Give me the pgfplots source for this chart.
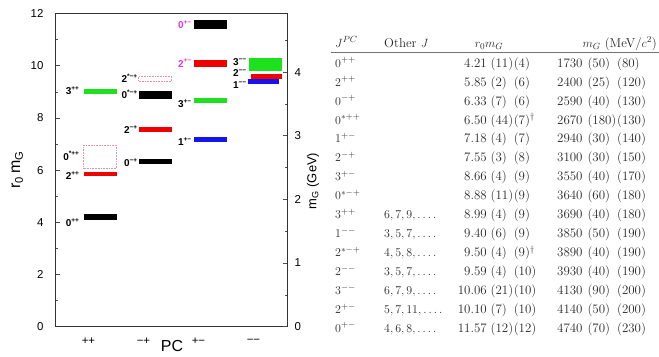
\documentclass[border=0pt]{standalone}
\usepackage{fontspec}
\usepackage{pgfplots}
\pgfplotsset{compat=1.18}
\newfontfamily\helv{Liberation Sans}
\definecolor{gbar}{RGB}{30,225,30}
\definecolor{rbar}{RGB}{240,0,0}
\definecolor{bbar}{RGB}{20,20,235}
\definecolor{kbar}{RGB}{0,0,0}
\definecolor{mag}{RGB}{225,50,225}
\definecolor{dotc}{RGB}{225,150,165}
\definecolor{tabc}{RGB}{40,40,40}
\newcommand\glab[2]{{\helv\bfseries\fontsize{10}{11}\selectfont #1\raisebox{0.42em}{\fontsize{6.5}{7}\selectfont #2}}}
\tikzset{tb/.style={inner sep=0pt,text=tabc,font=\fontsize{13}{15}\selectfont}}
\newcommand\trow[9]{%
  \node[tb,anchor=base west] at (335bp,#1bp) {#2};
  \node[tb,anchor=base west] at (384bp,#1bp) {#3};
  \node[tb,anchor=base east] at (487bp,#1bp) {#4};
  \node[tb,anchor=base west] at (490.5bp,#1bp) {#5};
  \node[tb,anchor=base west] at (513.6bp,#1bp) {#6};
  \node[tb,anchor=base west] at (557bp,#1bp) {#7};
  \node[tb,anchor=base west] at (587.3bp,#1bp) {#8};
  \node[tb,anchor=base west] at (616.9bp,#1bp) {#9};
}
\begin{document}
\begin{tikzpicture}
\useasboundingbox (0,0) rectangle (659bp,357bp);
\begin{axis}[
  at={(55.5bp,30.3bp)}, anchor=south west, scale only axis,
  width=231.5bp, height=313.2bp,
  xmin=0.19, xmax=4.40, ymin=0, ymax=12,
  axis line style={black!80, line width=0.6pt},
  ytick={0,2,...,12}, minor ytick={1,3,...,11}, ytick pos=left,
  tick align=inside, major tick length=4bp, minor tick length=2.5bp,
  tick style={black!70, line width=0.5pt},
  xtick={0.79,1.79,2.79,3.79}, xticklabels={++,−+,+−,−−},
  major x tick style={draw=none},
  tick label style={font=\helv\fontsize{11.5}{12}\selectfont},
  /pgf/number format/assume math mode=true,
  xticklabel style={anchor=center, yshift=-14.8bp},
  yticklabel style={xshift=-8.5bp},
  xlabel={PC}, xlabel style={font=\helv\fontsize{16}{18}\selectfont, at={(axis description cs:0.503,-0.080)}, anchor=base},
  ylabel={r\textsubscript{0}\,m\textsubscript{G}}, ylabel style={font=\helv\fontsize{16}{18}\selectfont, at={(axis description cs:-0.165,0.5)}, anchor=center},
  no markers, clip=false,
]
% dotted (excited) states
\addplot[draw=dotc, densely dotted, line width=0.6pt] coordinates {(0.70,6.06) (1.30,6.06) (1.30,6.95) (0.70,6.95) (0.70,6.06)};
\addplot[draw=dotc, densely dotted, line width=0.6pt] coordinates {(1.70,9.40) (2.30,9.40) (2.30,9.60) (1.70,9.60) (1.70,9.40)};
% ++
\addplot[fill=kbar, draw=none] coordinates {(0.70,4.09) (1.30,4.09) (1.30,4.33) (0.70,4.33)};
\addplot[fill=rbar, draw=none] coordinates {(0.70,5.78) (1.30,5.78) (1.30,5.92) (0.70,5.92)};
\addplot[fill=gbar, draw=none] coordinates {(0.70,8.90) (1.30,8.90) (1.30,9.10) (0.70,9.10)};
% -+
\addplot[fill=kbar, draw=none] coordinates {(1.70,6.23) (2.30,6.23) (2.30,6.43) (1.70,6.43)};
\addplot[fill=rbar, draw=none] coordinates {(1.70,7.46) (2.30,7.46) (2.30,7.64) (1.70,7.64)};
\addplot[fill=kbar, draw=none] coordinates {(1.70,8.73) (2.30,8.73) (2.30,9.03) (1.70,9.03)};
% +-
\addplot[fill=bbar, draw=none] coordinates {(2.70,7.09) (3.30,7.09) (3.30,7.27) (2.70,7.27)};
\addplot[fill=gbar, draw=none] coordinates {(2.70,8.57) (3.30,8.57) (3.30,8.76) (2.70,8.76)};
\addplot[fill=rbar, draw=none] coordinates {(2.70,9.96) (3.30,9.96) (3.30,10.22) (2.70,10.22)};
\addplot[fill=kbar, draw=none] coordinates {(2.70,11.39) (3.30,11.39) (3.30,11.75) (2.70,11.75)};
% --
\addplot[fill=bbar, draw=none] coordinates {(3.69,9.29) (4.25,9.29) (4.25,9.50) (3.69,9.50)};
\addplot[fill=rbar, draw=none] coordinates {(3.74,9.50) (4.31,9.50) (4.31,9.70) (3.74,9.70)};
\addplot[fill=gbar, draw=none] coordinates {(3.70,9.81) (4.31,9.81) (4.31,10.30) (3.70,10.30)};
% labels
\node[anchor=east,inner sep=0pt] at (axis cs:0.62,9.05) {\glab{3}{++}};
\node[anchor=east,inner sep=0pt] at (axis cs:0.62,6.55) {\glab{0}{*++}};
\node[anchor=east,inner sep=0pt] at (axis cs:0.62,5.80) {\glab{2}{++}};
\node[anchor=east,inner sep=0pt] at (axis cs:0.62,4.00) {\glab{0}{++}};
\node[anchor=east,inner sep=0pt] at (axis cs:1.68,9.53) {\glab{2}{*−+}};
\node[anchor=east,inner sep=0pt] at (axis cs:1.68,8.90) {\glab{0}{*−+}};
\node[anchor=east,inner sep=0pt] at (axis cs:1.68,7.54) {\glab{2}{−+}};
\node[anchor=east,inner sep=0pt] at (axis cs:1.68,6.28) {\glab{0}{−+}};
\node[anchor=east,inner sep=0pt,text=mag] at (axis cs:2.66,11.56) {\glab{0}{+−}};
\node[anchor=east,inner sep=0pt,text=mag] at (axis cs:2.66,10.10) {\glab{2}{+−}};
\node[anchor=east,inner sep=0pt] at (axis cs:2.66,8.56) {\glab{3}{+−}};
\node[anchor=east,inner sep=0pt] at (axis cs:2.66,7.09) {\glab{1}{+−}};
\node[anchor=east,inner sep=0pt] at (axis cs:3.66,10.12) {\glab{3}{−−}};
\node[anchor=east,inner sep=0pt] at (axis cs:3.66,9.72) {\glab{2}{−−}};
\node[anchor=east,inner sep=0pt] at (axis cs:3.66,9.24) {\glab{1}{−−}};
\end{axis}
\begin{axis}[
  at={(55.5bp,30.3bp)}, anchor=south west, scale only axis,
  width=231.5bp, height=313.2bp,
  xmin=0.19, xmax=4.40, ymin=0, ymax=4.920,
  axis x line=none, axis y line*=right,
  axis line style={black!80, line width=0.6pt},
  ytick={0,1,2,3,4}, minor ytick={0.5,1.5,2.5,3.5,4.5},
  tick align=inside, major tick length=4bp, minor tick length=2.5bp,
  tick style={black!70, line width=0.5pt},
  tick label style={font=\helv\fontsize{11.5}{12}\selectfont},
  /pgf/number format/assume math mode=true,
  yticklabel style={xshift=4bp},
  ylabel={m\textsubscript{G} (GeV)}, ylabel style={font=\helv\fontsize{13}{15}\selectfont, at={(axis description cs:1.112,0.465)}, anchor=center},
]
\addplot[draw=none] coordinates {(1,0)};
\end{axis}
% table
\node[tb,anchor=base west] at (335bp,309.7bp) {$J^{PC}$};
\node[tb,anchor=base west] at (384bp,309.7bp) {Other $J$};
\node[tb,anchor=base] at (489bp,309.7bp) {$r_0m_G$};
\node[tb,anchor=base east] at (657bp,309.7bp) {$m_G$ (MeV/$c^2$)};
\draw[black!55, line width=1.3pt] (331bp,304.5bp) -- (659bp,304.5bp);
\trow{289.7}{$0^{++}$}{}{4.21}{(11)}{(4)}{1730}{(50)}{(80)}
\trow{270.8}{$2^{++}$}{}{5.85}{(2)}{(6)}{2400}{(25)}{(120)}
\trow{251.8}{$0^{-+}$}{}{6.33}{(7)}{(6)}{2590}{(40)}{(130)}
\trow{232.9}{$0^{*++}$}{}{6.50}{(44)}{(7)$^\dagger$}{2670}{(180)}{(130)}
\trow{214.0}{$1^{+-}$}{}{7.18}{(4)}{(7)}{2940}{(30)}{(140)}
\trow{195.0}{$2^{-+}$}{}{7.55}{(3)}{(8)}{3100}{(30)}{(150)}
\trow{176.1}{$3^{+-}$}{}{8.66}{(4)}{(9)}{3550}{(40)}{(170)}
\trow{157.2}{$0^{*-+}$}{}{8.88}{(11)}{(9)}{3640}{(60)}{(180)}
\trow{138.3}{$3^{++}$}{$6,7,9,\ldots.$}{8.99}{(4)}{(9)}{3690}{(40)}{(180)}
\trow{119.3}{$1^{--}$}{$3,5,7,\ldots.$}{9.40}{(6)}{(9)}{3850}{(50)}{(190)}
\trow{100.4}{$2^{*-+}$}{$4,5,8,\ldots.$}{9.50}{(4)}{(9)$^\dagger$}{3890}{(40)}{(190)}
\trow{81.5}{$2^{--}$}{$3,5,7,\ldots.$}{9.59}{(4)}{(10)}{3930}{(40)}{(190)}
\trow{62.5}{$3^{--}$}{$6,7,9,\ldots.$}{10.06}{(21)}{(10)}{4130}{(90)}{(200)}
\trow{43.6}{$2^{+-}$}{$5,7,11,\ldots.$}{10.10}{(7)}{(10)}{4140}{(50)}{(200)}
\trow{24.7}{$0^{+-}$}{$4,6,8,\ldots.$}{11.57}{(12)}{(12)}{4740}{(70)}{(230)}
\end{tikzpicture}
\end{document}
